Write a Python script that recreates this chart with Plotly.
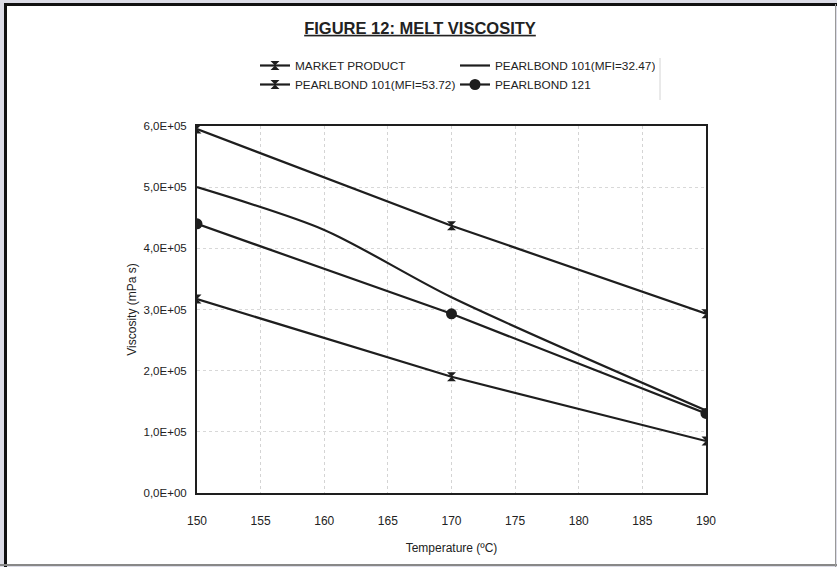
import plotly.graph_objects as go

# ---- data ----
temps = [150, 170, 190]
market_product = [3.17e5, 1.90e5, 0.85e5]
pb101_mfi53 = [5.95e5, 4.37e5, 2.93e5]
pb121 = [4.40e5, 2.93e5, 1.30e5]
temps_pb101_mfi32 = [150, 160, 170, 190]
pb101_mfi32 = [5.0e5, 4.3e5, 3.2e5, 1.35e5]

x_ticks = [150, 155, 160, 165, 170, 175, 180, 185, 190]
y_ticks = [0, 1e5, 2e5, 3e5, 4e5, 5e5, 6e5]
y_ticktext = ["0,0E+00", "1,0E+05", "2,0E+05", "3,0E+05", "4,0E+05", "5,0E+05", "6,0E+05"]

W, H = 837, 567
L, R, T, B = 197, 706, 126, 493


def px(x):
    return (x - L) / (R - L)


def py(y):
    return (B - y) / (B - T)


LINE = "#1e1e1e"
fig = go.Figure()
fig.add_trace(go.Scatter(x=temps, y=market_product, name="MARKET PRODUCT",
                         mode="lines+markers",
                         line=dict(color=LINE, width=2.2),
                         marker=dict(symbol="hourglass", size=9, color=LINE)))
fig.add_trace(go.Scatter(x=temps_pb101_mfi32, y=pb101_mfi32, name="PEARLBOND 101(MFI=32.47)",
                         mode="lines", line=dict(color=LINE, width=2.2, shape="spline", smoothing=0.8)))
fig.add_trace(go.Scatter(x=temps, y=pb101_mfi53, name="PEARLBOND 101(MFI=53.72)",
                         mode="lines+markers",
                         line=dict(color=LINE, width=2.2),
                         marker=dict(symbol="hourglass", size=9, color=LINE)))
fig.add_trace(go.Scatter(x=temps, y=pb121, name="PEARLBOND 121",
                         mode="lines+markers",
                         line=dict(color=LINE, width=2.2),
                         marker=dict(symbol="circle", size=11, color=LINE)))

shapes = [
    # page frame
    dict(type="rect", xref="paper", yref="paper", x0=px(0), x1=px(W), y0=py(H), y1=py(0),
         fillcolor="#dcdce6", line=dict(width=0), layer="below"),
    dict(type="rect", xref="paper", yref="paper", x0=px(5), x1=px(835), y0=py(564), y1=py(4),
         fillcolor="white", line=dict(width=0), layer="below"),
    dict(type="line", xref="paper", yref="paper", x0=px(4), x1=px(837), y0=py(4.5), y1=py(4.5),
         line=dict(color="#111", width=3), layer="below"),
    dict(type="line", xref="paper", yref="paper", x0=px(5.5), x1=px(5.5), y0=py(567), y1=py(4),
         line=dict(color="#111", width=3), layer="below"),
    dict(type="line", xref="paper", yref="paper", x0=px(0), x1=px(837), y0=py(565), y1=py(565),
         line=dict(color="#888", width=2), layer="below"),
    dict(type="line", xref="paper", yref="paper", x0=px(835.5), x1=px(835.5), y0=py(567), y1=py(4),
         line=dict(color="#999", width=1), layer="below"),
    # faint legend box edge
    dict(type="line", xref="paper", yref="paper", x0=px(660), x1=px(660), y0=py(100), y1=py(58),
         line=dict(color="#d4d4d4", width=1), layer="below"),
]

fig.update_layout(
    width=W, height=H,
    margin=dict(l=L, r=W - R, t=T, b=H - B),
    paper_bgcolor="white", plot_bgcolor="white",
    font=dict(family="Liberation Sans, Arial", color="#222"),
    title=dict(text="<b><u>FIGURE 12: MELT VISCOSITY</u></b>", x=420 / W, xanchor="center",
               y=1 - 28 / H, yanchor="middle", font=dict(size=16.5, color="#222")),
    showlegend=True,
    legend=dict(orientation="h", x=px(255), xanchor="left", y=py(51), yanchor="top",
                font=dict(size=11.8, color="#222"), entrywidth=155, entrywidthmode="pixels",
                bgcolor="rgba(0,0,0,0)", tracegroupgap=0, itemwidth=30),
    shapes=shapes,
)
fig.update_xaxes(range=[150, 190], tickvals=x_ticks, ticktext=[str(v) for v in x_ticks],
                 showline=True, mirror=True, linecolor=LINE, linewidth=2,
                 showgrid=True, gridcolor="#d4d4d4", griddash="dot", gridwidth=1,
                 zeroline=False, ticks="", tickfont=dict(size=12), ticklabelstandoff=16,
                 title=dict(text="Temperature (ºC)", font=dict(size=12), standoff=16))
fig.update_yaxes(range=[0, 6e5], tickvals=y_ticks, ticktext=y_ticktext,
                 showline=True, mirror=True, linecolor=LINE, linewidth=2,
                 showgrid=True, gridcolor="#d8d8d8", griddash="dot", gridwidth=1,
                 zeroline=False, ticks="", tickfont=dict(size=11.5), ticklabelstandoff=6,
                 title=dict(text="Viscosity (mPa s)", font=dict(size=12), standoff=4))

fig.write_html("out.html")
